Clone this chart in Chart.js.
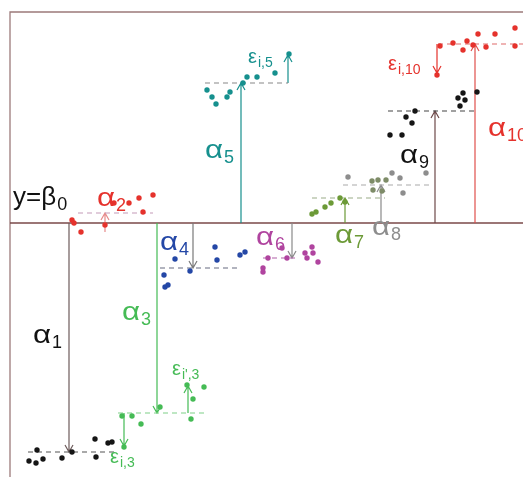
<!DOCTYPE html>
<html>
<head>
<meta charset="utf-8">
<script src="https://cdn.jsdelivr.net/npm/chart.js@4.4.1/dist/chart.umd.min.js"></script>
<style>
  html, body { margin: 0; padding: 0; background: #ffffff; }
  #wrap { width: 523px; height: 477px; }
</style>
</head>
<body>
<div id="wrap"><canvas id="c" width="523" height="477"></canvas></div>
<script>
// Observations per factor level (x = observation order, y = response relative to β0)
const obsX1 = [2.7, 1.9, 2.6, 3.3, 5.2, 6.2, 8.5, 8.6, 9.8, 10.2];
const obsY1 = [-22.7, -23.8, -24.0, -23.6, -23.5, -22.9, -21.6, -23.4, -22.0, -21.9];
const obsX2 = [6.2, 6.4, 7.1, 9.5, 10.4, 11.9, 12.9, 14.3, 13.3];
const obsY2 = [0.3, 0.0, -0.9, -0.2, 2.0, 2.0, 2.5, 2.8, 1.1];
const obsX3 = [11.2, 12.2, 13.1, 15.0, 17.7, 19.4, 18.3, 18.1, 11.4];
const obsY3 = [-19.3, -19.3, -20.1, -18.4, -16.2, -16.4, -17.6, -19.6, -22.4];
const obsX4 = [15.4, 15.5, 15.8, 16.5, 18.0, 20.5, 20.7, 23.0, 23.5];
const obsY4 = [-5.2, -6.4, -6.2, -3.6, -4.8, -2.4, -3.7, -3.2, -2.9];
const obsX5 = [19.7, 20.2, 20.6, 21.7, 22.0, 23.3, 23.7, 24.7, 26.5, 27.9];
const obsY5 = [13.3, 12.6, 11.9, 12.6, 13.1, 14.0, 14.6, 14.6, 15.0, 16.9];
const obsX6 = [25.3, 25.3, 25.8, 27.2, 27.7, 29.5, 29.7, 30.2, 30.3, 30.8];
const obsY6 = [-4.5, -4.9, -3.5, -2.5, -3.5, -3.0, -3.5, -2.4, -3.0, -3.9];
const obsX7 = [30.2, 30.6, 31.5, 32.1, 33.0, 33.5];
const obsY7 = [0.9, 1.1, 1.6, 2.0, 2.5, 2.1];
const obsX8 = [33.8, 38.2, 39.0, 39.3, 41.6];
const obsY8 = [4.6, 5.0, 4.5, 3.0, 5.0];
const obsX8b = [36.2, 36.8, 37.6, 36.3, 37.2];
const obsY8b = [4.2, 4.3, 4.3, 3.3, 3.2];
const obsX9 = [38.0, 39.2, 39.6, 40.2, 40.5, 44.8, 45.3, 45.5, 45.0, 46.7];
const obsY9 = [8.8, 8.8, 10.6, 10.0, 11.2, 12.5, 13.0, 12.3, 11.7, 13.1];
const obsX10 = [43.0, 44.3, 45.3, 45.7, 46.3, 46.8, 47.6, 48.5, 50.5, 50.5, 42.7];
const obsY10 = [17.7, 18.0, 17.3, 18.2, 17.8, 18.9, 17.6, 18.9, 19.5, 17.7, 14.8];

// Level means (β0 + αj) and the span of each level's dashed line
const levelY      = [-22.9, 1.0, -19.0, -4.5, 14.0, -3.5, 2.5, 3.8, 11.2, 17.9];
const levelXStart = [1.8, 6.8, 10.8, 15.0, 19.5, 25.3, 30.2, 33.3, 37.8, 42.8];
const levelXEnd   = [10.5, 14.3, 19.7, 23.0, 27.8, 28.5, 37.5, 42.0, 46.7, 52.5];

// Effect arrows αj: drawn from β0 (y = 0) to the level mean
const effectX    = [5.9, 9.5, 14.7, 18.3, 23.1, 28.2, 33.5, 37.1, 42.5, 46.5];
const effectFrom = [0, -0.9, 0, 0, 0, 0, 0, 0, 0, 0];

// Residual arrows εi,j: from the level mean to a single observation
const residX    = [11.4, 17.8, 27.8, 42.7];
const residFrom = [-19.0, -19.0, 14.0, 17.9];
const residTo   = [-22.3, -16.3, 16.8, 15.0];

const colBlack = '#151515', colRed = '#e5322c', colGreen = '#45bb55', colBlue = '#2447a6',
      colTeal = '#16908e', colMagenta = '#b0449f', colOlive = '#6c9a37', colGray = '#8d8d8d',
      colOliveGray = '#7e8c68';

const pointColors = [colBlack, colRed, colGreen, colBlue, colTeal, colMagenta, colOlive, colGray, colBlack, colRed];
const dashColors  = ['#555555', '#c49ab8', '#7fcf88', '#666a80', '#888888', '#b060a8', '#9aab88', '#aaaaaa', '#444444', '#e06a6a'];
const effectColors = ['#6e5c5c', '#e78a8a', colGreen, '#7a7a7a', colTeal, '#8a8a8a', colOlive, '#8a8a8a', '#6e4a4a', '#e0504c'];
const residColors  = [colGreen, colGreen, colTeal, colRed];

const obsX = [obsX1, obsX2, obsX3, obsX4, obsX5, obsX6, obsX7, obsX8, obsX9, obsX10];
const obsY = [obsY1, obsY2, obsY3, obsY4, obsY5, obsY6, obsY7, obsY8, obsY9, obsY10];

const pts = (xs, ys) => xs.map((x, i) => ({ x: x, y: ys[i] }));

const datasets = [];
obsX.forEach((xs, j) => {
  datasets.push({
    type: 'scatter', data: pts(xs, obsY[j]), order: 0,
    backgroundColor: pointColors[j], borderWidth: 0, pointRadius: 2.7, pointHoverRadius: 2.7
  });
});
datasets.push({
  type: 'scatter', data: pts(obsX8b, obsY8b), order: 0,
  backgroundColor: colOliveGray, borderWidth: 0, pointRadius: 2.7
});
levelY.forEach((y, j) => {
  datasets.push({
    type: 'line', order: 2,
    data: [{ x: levelXStart[j], y: y }, { x: levelXEnd[j], y: y }],
    borderColor: dashColors[j], borderWidth: 1.1, borderDash: [5, 4],
    pointRadius: 0, fill: false
  });
});

// Text annotations: [main, subscript, x, y, colour, font size, horizontal stretch]
const labels = [
  ['y=β', '0', 0.3, 1.8, '#111111', 26, 1.0],
  ['α', '1', 2.3, -12.0, '#111111', 26, 1.2],
  ['α', '2', 8.7, 1.7, colRed, 26, 1.2],
  ['α', '3', 11.2, -9.7, colGreen, 26, 1.2],
  ['α', '4', 15.0, -2.7, colBlue, 26, 1.2],
  ['α', '5', 19.5, 6.5, colTeal, 26, 1.2],
  ['α', '6', 24.6, -2.2, colMagenta, 26, 1.2],
  ['α', '7', 32.5, -2.0, colOlive, 26, 1.2],
  ['α', '8', 36.2, -1.2, colGray, 26, 1.2],
  ['α', '9', 39.0, 6.0, '#111111', 26, 1.2],
  ['α', '10', 47.8, 8.7, colRed, 26, 1.2],
  ['ε', 'i,5', 23.8, 16.0, colTeal, 20, 1.0],
  ['ε', 'i,10', 37.8, 15.3, colRed, 20, 1.0],
  ['ε', "i',3", 16.2, -15.2, colGreen, 20, 1.0],
  ['ε', 'i,3', 10.0, -24.0, colGreen, 20, 1.0]
];

const labelFont = '"Liberation Sans", Arial, sans-serif';

function arrow(ctx, x, y0, y1, color) {
  const dir = y1 > y0 ? 1 : -1;
  ctx.save();
  ctx.strokeStyle = color;
  ctx.lineWidth = 1.2;
  ctx.beginPath();
  ctx.moveTo(x, y0);
  ctx.lineTo(x, y1);
  ctx.moveTo(x - 4, y1 - dir * 7);
  ctx.lineTo(x, y1);
  ctx.lineTo(x + 4, y1 - dir * 7);
  ctx.stroke();
  ctx.restore();
}

const diagramPlugin = {
  id: 'diagram',
  beforeDatasetsDraw(chart) {
    const { ctx, scales: { x: sx, y: sy } } = chart;
    const left = sx.getPixelForValue(0), right = sx.getPixelForValue(52.3);
    const top = sy.getPixelForValue(21.1), bottom = sy.getPixelForValue(-25.4);
    const base = sy.getPixelForValue(0);
    ctx.save();
    ctx.strokeStyle = '#9c7a7a';
    ctx.lineWidth = 1.3;
    ctx.beginPath();
    ctx.moveTo(right, top); ctx.lineTo(left, top); ctx.lineTo(left, bottom);
    ctx.stroke();
    ctx.strokeStyle = '#7a4848';
    ctx.lineWidth = 1.4;
    ctx.beginPath();
    ctx.moveTo(left, base); ctx.lineTo(right, base);
    ctx.stroke();
    ctx.restore();
    effectX.forEach((x, j) => {
      arrow(ctx, sx.getPixelForValue(x), sy.getPixelForValue(effectFrom[j]),
            sy.getPixelForValue(levelY[j]), effectColors[j]);
    });
    residX.forEach((x, k) => {
      arrow(ctx, sx.getPixelForValue(x), sy.getPixelForValue(residFrom[k]),
            sy.getPixelForValue(residTo[k]), residColors[k]);
    });
  },
  afterDatasetsDraw(chart) {
    const { ctx, scales: { x: sx, y: sy } } = chart;
    ctx.save();
    ctx.textBaseline = 'alphabetic';
    ctx.textAlign = 'left';
    labels.forEach(([main, sub, x, y, color, size, stretch]) => {
      const px = sx.getPixelForValue(x), py = sy.getPixelForValue(y);
      ctx.fillStyle = color;
      ctx.font = size + 'px ' + labelFont;
      ctx.save();
      ctx.translate(px, py);
      ctx.scale(stretch, 1);
      ctx.fillText(main, 0, 0);
      ctx.restore();
      const w = ctx.measureText(main).width * stretch;
      ctx.font = Math.round(size * 0.7) + 'px ' + labelFont;
      ctx.fillText(sub, px + w + 1, py + size * 0.2);
    });
    ctx.restore();
  }
};

new Chart(document.getElementById('c'), {
  type: 'scatter',
  data: { datasets: datasets },
  options: {
    responsive: false,
    animation: false,
    layout: { padding: 0, autoPadding: false },
    plugins: { legend: { display: false }, tooltip: { enabled: false } },
    scales: {
      x: { type: 'linear', min: -1, max: 51.3, display: false },
      y: { type: 'linear', min: -25.4, max: 22.3, display: false }
    }
  },
  plugins: [diagramPlugin]
});
</script>
</body>
</html>
